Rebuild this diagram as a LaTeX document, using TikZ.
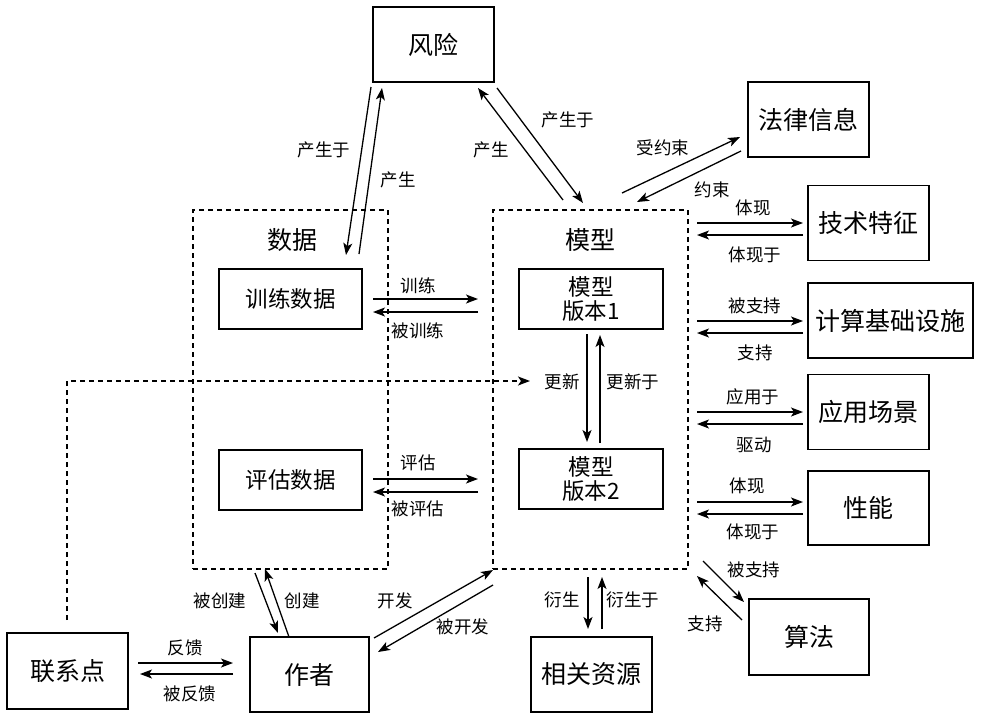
\documentclass[tikz,border=0pt]{standalone}
\usepackage{fontspec}
\setmainfont{Noto Sans CJK SC}
\usetikzlibrary{arrows.meta}
\tikzset{
  box/.style={draw, line width=1.3pt, minimum width=121pt, minimum height=75pt, inner sep=0pt, font=\fontsize{25}{30}\selectfont},
  inbox/.style={draw, line width=1.3pt, minimum width=143pt, minimum height=60pt, inner sep=0pt, font=\fontsize{22.5}{26}\selectfont, align=center},
  group/.style={draw, dash pattern=on 5pt off 4pt, line width=1.2pt, minimum width=195pt, minimum height=359pt, inner sep=0pt},
  title/.style={font=\fontsize{25}{30}\selectfont, inner sep=0pt},
  lbl/.style={font=\fontsize{17.5}{20}\selectfont, inner sep=0pt},
  arr/.style={line width=1.3pt, -{Stealth[length=12pt,width=9pt,inset=3pt]}},
  darr/.style={arr, dash pattern=on 5pt off 4pt},
}
\begin{document}
\begin{tikzpicture}[x=1pt,y=-1pt]
\useasboundingbox (0,0) rectangle (982,720);
% groups
\node[group] (databox) at (290.5,389.5) {};
\node[group] (modelbox) at (590.5,389.5) {};
\node[title] (datat) at (292,240) {数据};
\node[title] (modelt) at (590,240) {模型};
% boxes
\node[box] (risk) at (433.5,44.5) {风险};
\node[box] (law) at (808.5,119.5) {法律信息};
\node[box] (tech) at (868.5,223) {技术特征};
\node[box, minimum width=165pt] (comp) at (890.5,320.5) {计算基础设施};
\node[box] (app) at (868.5,412) {应用场景};
\node[box, minimum height=74pt] (perf) at (868.5,508) {性能};
\node[box, minimum width=120pt, minimum height=76pt] (algo) at (809,637) {算法};
\node[box] (res) at (591.5,674.5) {相关资源};
\node[box, minimum width=119pt] (author) at (309.5,674.5) {作者};
\node[box, minimum height=76pt] (contact) at (67.5,671) {联系点};
\node[inbox] (train) at (290.5,299) {训练数据};
\node[inbox] (eval) at (290.5,480) {评估数据};
\node[inbox, minimum width=144pt] (v1) at (591,299) {模型\\[-2pt]版本1};
\node[inbox, minimum width=144pt] (v2) at (591,479) {模型\\[-2pt]版本2};

% risk <-> data
\draw[arr] ([shift={(-62.5,42.5)}]risk.center) -- ([shift={(55.5,-134.5)}]databox.center);
\draw[arr] ([shift={(68.5,-135.5)}]databox.center) -- ([shift={(-51.5,43.5)}]risk.center);
\node[lbl] (l1) at (324,150) {产生于};
\node[lbl] (l2) at (398,180) {产生};
% risk <-> model
\draw[arr] ([shift={(-27.5,-189.5)}]modelbox.center) -- ([shift={(44.5,43.5)}]risk.center);
\draw[arr] ([shift={(63.5,43.5)}]risk.center) -- ([shift={(-7.5,-186.5)}]modelbox.center);
\node[lbl] (l3) at (491,150) {产生};
\node[lbl] (l4) at (568,120) {产生于};
% model <-> law
\draw[arr] ([shift={(31.5,-196.5)}]modelbox.center) -- ([shift={(-68.5,17.5)}]law.center);
\draw[arr] ([shift={(-67.5,31.5)}]law.center) -- ([shift={(46.5,-187.5)}]modelbox.center);
\node[lbl] (l5) at (663,148) {受约束};
\node[lbl] (l6) at (712,190) {约束};
% model <-> tech
\draw[arr] ([shift={(106.5,-166.5)}]modelbox.center) -- ([shift={(-65.5,0)}]tech.center);
\draw[arr] ([shift={(-65.5,12)}]tech.center) -- ([shift={(106.5,-154.5)}]modelbox.center);
\node[lbl] (l7) at (753,208) {体现};
\node[lbl] (l8) at (755,255) {体现于};
% model <-> comp
\draw[arr] ([shift={(106.5,-68.5)}]modelbox.center) -- ([shift={(-87.5,0.5)}]comp.center);
\draw[arr] ([shift={(-87.5,12.5)}]comp.center) -- ([shift={(106.5,-56.5)}]modelbox.center);
\node[lbl] (l9) at (755,306) {被支持};
\node[lbl] (l10) at (755,353) {支持};
% model <-> app
\draw[arr] ([shift={(106.5,22.5)}]modelbox.center) -- ([shift={(-65.5,0)}]app.center);
\draw[arr] ([shift={(-65.5,12)}]app.center) -- ([shift={(106.5,34.5)}]modelbox.center);
\node[lbl] (l11) at (753,397) {应用于};
\node[lbl] (l12) at (754,445) {驱动};
% model <-> perf
\draw[arr] ([shift={(106.5,112.5)}]modelbox.center) -- ([shift={(-65.5,-6)}]perf.center);
\draw[arr] ([shift={(-65.5,6)}]perf.center) -- ([shift={(106.5,124.5)}]modelbox.center);
\node[lbl] (l13) at (747,486) {体现};
\node[lbl] (l14) at (753,532) {体现于};
% model <-> algo
\draw[arr] ([shift={(112.5,171.5)}]modelbox.center) -- ([shift={(-65,-35)}]algo.center);
\draw[arr] ([shift={(-67,-17)}]algo.center) -- ([shift={(106.5,186.5)}]modelbox.center);
\node[lbl] (l15) at (754,570) {被支持};
\node[lbl] (l16) at (705,624) {支持};
% model <-> res
\draw[arr] ([shift={(-2.5,187.5)}]modelbox.center) -- ([shift={(-3.5,-45.5)}]res.center);
\draw[arr] ([shift={(10.5,-45.5)}]res.center) -- ([shift={(11.5,187.5)}]modelbox.center);
\node[lbl] (l17) at (562,600) {衍生};
\node[lbl] (l18) at (633,600) {衍生于};
% author <-> data
\draw[arr] ([shift={(-35.5,183.5)}]databox.center) -- ([shift={(-31.5,-41.5)}]author.center);
\draw[arr] ([shift={(-20.5,-37.5)}]author.center) -- ([shift={(-25.5,179.5)}]databox.center);
\node[lbl] (l19) at (220,601) {被创建};
\node[lbl] (l20) at (302,601) {创建};
% author <-> model
\draw[arr] ([shift={(64.5,-36.5)}]author.center) -- ([shift={(-97.5,180.5)}]modelbox.center);
\draw[arr] ([shift={(-97.5,195.5)}]modelbox.center) -- ([shift={(68.5,-22.5)}]author.center);
\node[lbl] (l21) at (395,601) {开发};
\node[lbl] (l22) at (463,627) {被开发};
% contact <-> author
\draw[arr] ([shift={(70.5,-8)}]contact.center) -- ([shift={(-76.5,-11.5)}]author.center);
\draw[arr] ([shift={(-76.5,-0.5)}]author.center) -- ([shift={(72.5,3)}]contact.center);
\node[lbl] (l23) at (185,648) {反馈};
\node[lbl] (l24) at (190,694) {被反馈};
% contact -> update (dashed)
\draw[darr] ([shift={(-0.5,-51)}]contact.center) |- ([shift={(-61,82)}]v1.center);
% train / eval
\draw[arr] ([shift={(82.5,0)}]train.center) -- ([shift={(-113,0)}]v1.center);
\draw[arr] ([shift={(-113,13)}]v1.center) -- ([shift={(82.5,13)}]train.center);
\node[lbl] (l25) at (418,286) {训练};
\node[lbl] (l26) at (418,331) {被训练};
\draw[arr] ([shift={(82.5,-1)}]eval.center) -- ([shift={(-113,0)}]v2.center);
\draw[arr] ([shift={(-113,13)}]v2.center) -- ([shift={(82.5,12)}]eval.center);
\node[lbl] (l27) at (418,463) {评估};
\node[lbl] (l28) at (418,509) {被评估};
% versions
\draw[arr] ([shift={(-4,35)}]v1.center) -- ([shift={(-4,-37)}]v2.center);
\draw[arr] ([shift={(9,-36)}]v2.center) -- ([shift={(9,36)}]v1.center);
\node[lbl] (l29) at (562,382) {更新};
\node[lbl] (l30) at (633,382) {更新于};
\end{tikzpicture}
\end{document}
